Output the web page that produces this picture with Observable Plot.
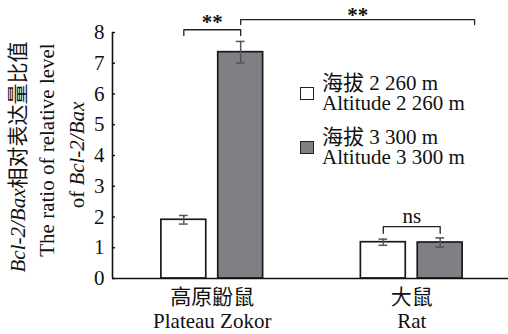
<!DOCTYPE html>
<html><head><meta charset="utf-8">
<script src="https://cdn.jsdelivr.net/npm/d3@7"></script>
<script src="https://cdn.jsdelivr.net/npm/@observablehq/plot@0.6"></script>
<style>
body{margin:0;background:#fff;overflow:hidden}
#wrap{position:relative;width:508px;height:334px;font-family:'Liberation Serif','Noto Sans CJK SC',serif;color:#111}
#legend{position:absolute;left:300px;top:73px;font-size:21px;line-height:20px;font-family:'Liberation Serif','Noto Sans CJK SC',serif}
.item{display:flex;align-items:center;margin-bottom:14px}
.sw{width:12px;height:11px;border:1px solid #222;margin-right:8px;flex:none}
.lab{white-space:pre}
svg text{font-family:'Liberation Serif','Noto Sans CJK SC',serif}
</style></head><body><div id="wrap"></div>
<script>
// ---- data ----
const groups = ["高原鼢鼠\nPlateau Zokor", "大鼠\nRat"];
const seriesNames = ["海拔 2 260 m\nAltitude 2 260 m", "海拔 3 300 m\nAltitude 3 300 m"];
const seriesColors = ["#ffffff", "#817f85"];
const mean2260 = [1.91, 1.18];
const err2260 = [0.14, 0.10];
const mean3300 = [7.36, 1.17];
const err3300 = [0.35, 0.15];
const yTicks = [0, 1, 2, 3, 4, 5, 6, 7, 8];
// significance brackets: [group, series] of each end; a number = x position in group units
const sigLabels = ["**", "**", "ns"];
const sigLeft = [[0, 0], [0, 1], [1, 0]];
const sigRight = [[0, 1], 1.815, [1, 1]];
const sigTop = [8.09, 8.42, 1.69];
const sigDrop = [0.19, 0.16, 0.22];

// ---- layout (in group units) ----
const barW = 0.225, gap = 0.06;
const barX1 = (g, s) => g + 0.5 + (s === 0 ? -gap / 2 - barW : gap / 2);
const barCx = (g, s) => barX1(g, s) + barW / 2;
const means = [mean2260, mean3300], errs = [err2260, err3300];
const bars = groups.flatMap((g, gi) => [0, 1].map(s => ({
  gi, s, v: means[s][gi], e: errs[s][gi],
  x1: barX1(gi, s), x2: barX1(gi, s) + barW, cx: barCx(gi, s), fill: seriesColors[s]
})));
const capW = 0.022;
const endX = e => Array.isArray(e) ? barCx(e[0], e[1]) : e;
const bracketPts = sigLabels.flatMap((l, i) => {
  const a = endX(sigLeft[i]), b = endX(sigRight[i]), t = sigTop[i], d = sigDrop[i];
  return [[a, t - d], [a, t], [b, t], [b, t - d]].map(([x, y]) => ({x, y, i}));
});
const sigText = sigLabels.map((l, i) => ({l, i, x: (endX(sigLeft[i]) + endX(sigRight[i])) / 2, y: sigTop[i]}));

const font = "'Liberation Serif','Noto Sans CJK SC',serif";
const sigMark = (i, dy) => Plot.text([sigText[i]], {x: "x", y: "y", text: "l", dy, lineAnchor: "bottom",
  fontFamily: font, fontSize: 21, fontWeight: sigText[i].l === "ns" ? "normal" : "bold", fill: "#111"});
const plot = Plot.plot({
  width: 508, height: 334,
  marginLeft: 112, marginRight: 0, marginTop: 32, marginBottom: 56,
  style: {fontFamily: font, fontSize: "20px", color: "#111", background: "white"},
  x: {domain: [0, 2], range: [112, 511], axis: null},
  y: {domain: [0, 8], axis: null},
  marks: [
    Plot.rectY(bars, {x1: "x1", x2: "x2", y1: 0, y2: "v", fill: "fill", stroke: "#1a1a1a", strokeWidth: 1.7}),
    Plot.ruleX(bars, {x: "cx", y1: d => d.v - d.e, y2: d => d.v + d.e, stroke: "#555", strokeWidth: 1.5}),
    Plot.ruleY(bars, {y: d => d.v + d.e, x1: d => d.cx - capW, x2: d => d.cx + capW, stroke: "#555", strokeWidth: 1.5}),
    Plot.ruleY(bars, {y: d => d.v - d.e, x1: d => d.cx - capW, x2: d => d.cx + capW, stroke: "#555", strokeWidth: 1.5}),
    Plot.line(bracketPts, {x: "x", y: "y", z: "i", stroke: "#222", strokeWidth: 1.3, curve: "linear"}),
    sigMark(0, -1), sigMark(1, 2), sigMark(2, -4),
    Plot.ruleY([0], {stroke: "#111", strokeWidth: 1.6}),
    Plot.ruleX([0], {stroke: "#111", strokeWidth: 1.6}),
    Plot.axisY({ticks: yTicks, tickSize: 3, dx: 3, tickPadding: 8, fontFamily: font, fontSize: 21, stroke: "#111", strokeWidth: 1.4, tickFormat: d => d}),
    Plot.axisX({ticks: [0.5, 1.5], tickSize: 0, tickPadding: 8, fontFamily: font, fontSize: 21, lineHeight: 1.15,
      tickFormat: d => groups[Math.round(d - 0.5)]})
  ]
});
document.getElementById("wrap").appendChild(plot);

// y-axis title (three lines, rotated)
const svg = d3.select(plot);
const titleLines = [
  {cx: 18, cy: 157, parts: [["Bcl-2/Bax", true], ["相对表达量比值", false]]},
  {cx: 47, cy: 150, parts: [["The ratio of relative level", false]]},
  {cx: 77, cy: 155, parts: [["of ", false], ["Bcl-2/Bax", true]]}
];
titleLines.forEach(L => {
  const t = svg.append("text")
    .attr("transform", `translate(${L.cx},${L.cy}) rotate(-90)`)
    .attr("text-anchor", "middle").attr("dominant-baseline", "central")
    .attr("font-size", 21).attr("fill", "#111");
  L.parts.forEach(([s, it]) => t.append("tspan").attr("font-style", it ? "italic" : "normal").text(s));
});

// legend
const leg = document.createElement("div");
leg.id = "legend";
seriesNames.forEach((n, i) => {
  const it = document.createElement("div"); it.className = "item";
  const sw = document.createElement("div"); sw.className = "sw"; sw.style.background = seriesColors[i];
  const lb = document.createElement("div"); lb.className = "lab"; lb.textContent = n;
  it.appendChild(sw); it.appendChild(lb); leg.appendChild(it);
});
document.getElementById("wrap").appendChild(leg);
</script></body></html>
